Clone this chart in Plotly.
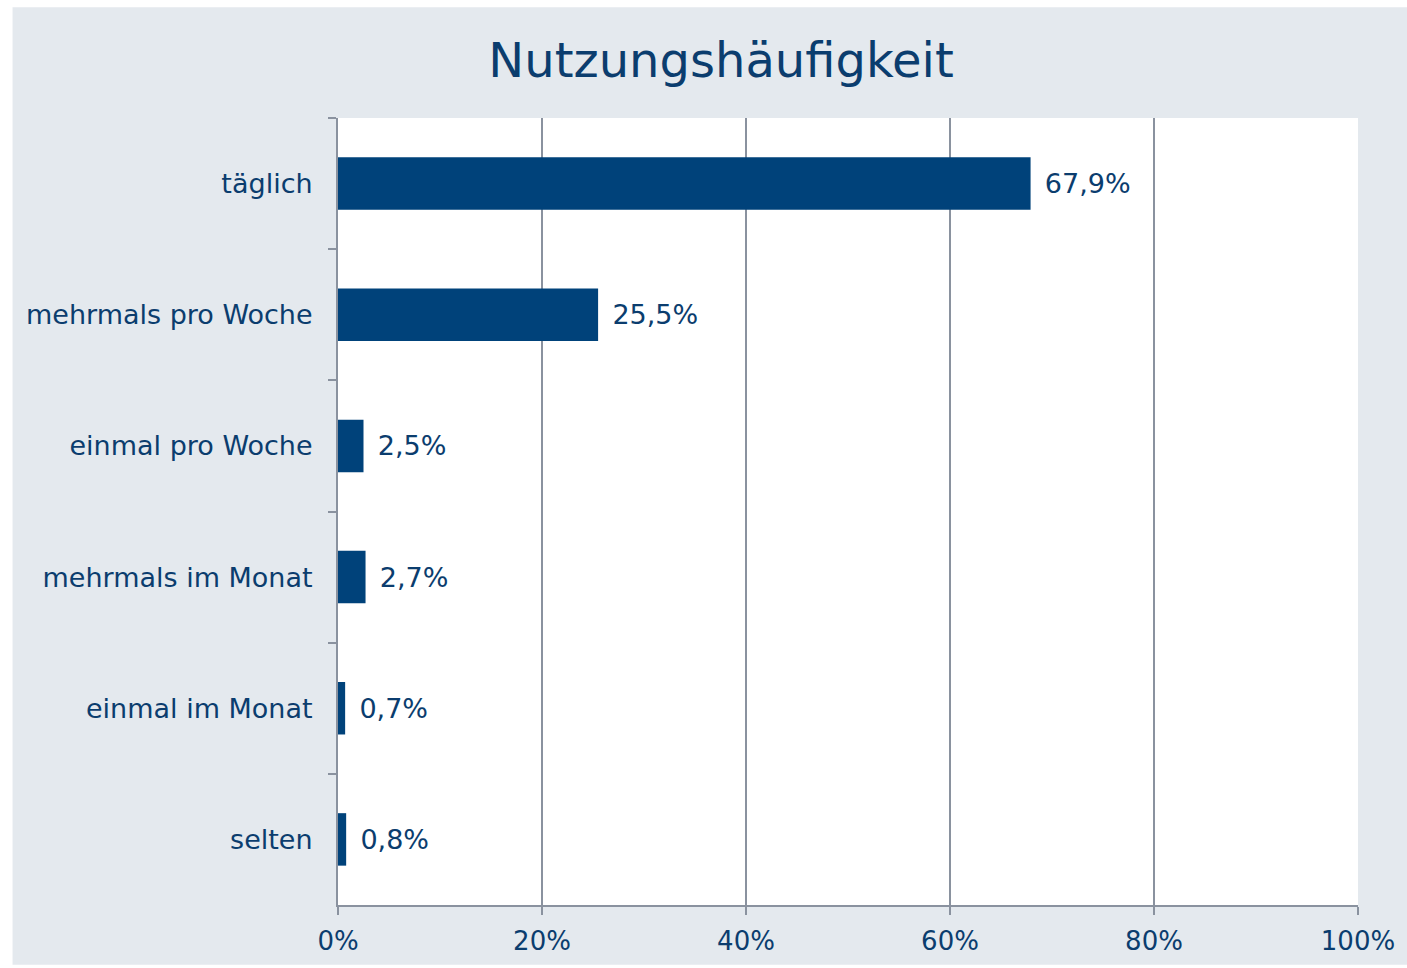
import plotly.graph_objects as go

categories = ["täglich", "mehrmals pro Woche", "einmal pro Woche", "mehrmals im Monat", "einmal im Monat", "selten"]
values = [67.9, 25.5, 2.5, 2.7, 0.7, 0.8]
labels = ["67,9%", "25,5%", "2,5%", "2,7%", "0,7%", "0,8%"]
x_ticks = [0, 20, 40, 60, 80, 100]
x_tick_labels = ["0%", "20%", "40%", "60%", "80%", "100%"]

W, H = 1407, 968
L, R, T, B = 338, 41, 118, 61
TXT = "#0B3D6E"
GRID = "#8A929F"
BG = "#E4E9EE"
PW = W - L - R
PH = H - T - B

fig = go.Figure(go.Bar(
    x=values, y=categories, orientation="h",
    marker=dict(color="#00427A", line=dict(width=0)),
    width=0.4,
    text=[" \u200a" + t for t in labels], textposition="outside", cliponaxis=False,
    textfont=dict(family="DejaVu Sans", size=27, color=TXT),
))

fig.update_layout(
    width=W, height=H,
    margin=dict(l=L, r=R, t=T, b=B),
    paper_bgcolor=BG, plot_bgcolor="white",
    showlegend=False,
    font=dict(family="DejaVu Sans", color=TXT),
    title=dict(text="Nutzungshäufigkeit", x=721 / W, xanchor="center",
               y=1 - 60 / H, yanchor="middle", yref="container",
               font=dict(family="DejaVu Sans", size=48, color=TXT)),
    xaxis=dict(range=[0, 100], tickvals=x_ticks, ticktext=x_tick_labels,
               showgrid=True, gridcolor=GRID, gridwidth=2,
               showline=True, linecolor=GRID, linewidth=2,
               ticks="outside", ticklen=8, tickcolor=GRID, tickwidth=2,
               tickfont=dict(size=26, color=TXT), zeroline=False,
               ticklabelstandoff=4),
    yaxis=dict(autorange="reversed", type="category",
               showline=True, linecolor=GRID, linewidth=2,
               ticks="outside", ticklen=8, tickcolor=GRID, tickwidth=2,
               tickson="boundaries", showgrid=False,
               tickfont=dict(size=27, color=TXT), ticklabelstandoff=18),
    shapes=[
        dict(type="rect", xref="paper", yref="paper",
             x0=-L / PW - 0.01, x1=(10 - L) / PW, y0=-0.2, y1=1.3,
             fillcolor="white", line=dict(width=0), layer="above"),
        dict(type="rect", xref="paper", yref="paper",
             x0=-0.4, x1=1.1, y0=(PH + T - 7) / PH, y1=1.3,
             fillcolor="white", line=dict(width=0), layer="above"),
        dict(type="rect", xref="paper", yref="paper",
             x0=-0.4, x1=1.1, y0=-0.2, y1=-(B - 1) / PH,
             fillcolor="white", line=dict(width=0), layer="above"),
    ],
)

fig.write_html("out.html", config={"displayModeBar": False},
               post_script="document.body.style.margin='0';document.body.style.overflow='hidden';")
